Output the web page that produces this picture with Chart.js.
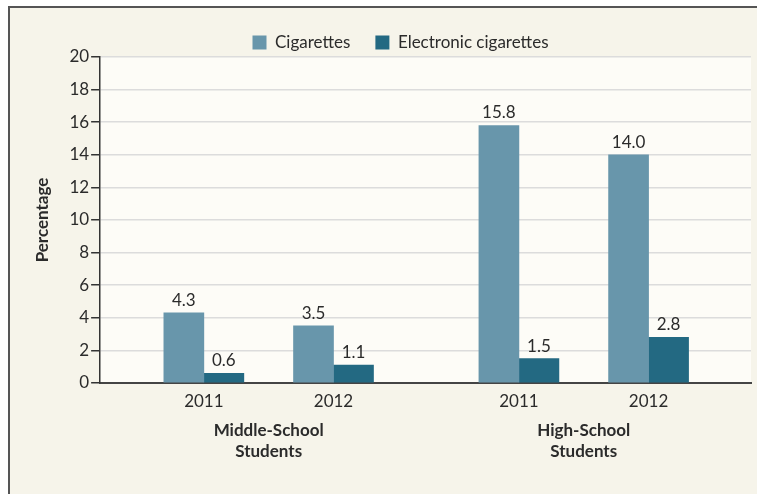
<!DOCTYPE html>
<html>
<head>
<meta charset="utf-8">
<script src="https://cdn.jsdelivr.net/npm/chart.js@4/dist/chart.umd.min.js"></script>
<style>
  html, body { margin: 0; padding: 0; background: #ffffff; overflow: hidden; }
  #frame {
    position: absolute; left: 8px; top: 6px;
    width: 747px; height: 486px;
    border-left: 2px solid #555555; border-top: 2px solid #555555;
    background: #f6f4ea;
  }
  #chart { display: block; }
</style>
</head>
<body>
<div id="frame"><canvas id="chart" width="747" height="486"></canvas></div>
<script>
// values
var yearLabels = ["2011", "2012", "2011", "2012"];
var yearPositions = [1, 2, 3.43, 4.43];
var groupLabels = [["Middle-School", "Students"], ["High-School", "Students"]];
var groupPositions = [1.5, 3.93];
var cigarettes = [4.3, 3.5, 15.8, 14.0];
var eCigarettes = [0.6, 1.1, 1.5, 2.8];

var fontFamily = "Lato, 'DejaVu Sans', sans-serif";
var textColor = "#2b2b2b";

function toPoints(values){
    var pts = [];
    for(var i = 0; i < values.length; i++){
        pts.push({x: yearPositions[i], y: values[i]});
    }
    return pts;
}

// plot area is a lighter shade than the page
var plotBackground = {
    id: "plotBackground",
    beforeDraw: function(chart){
        var a = chart.chartArea;
        var ctx = chart.ctx;
        ctx.save();
        ctx.fillStyle = "#fdfcf7";
        ctx.fillRect(a.left, a.top, a.right - a.left, a.bottom - a.top);
        ctx.restore();
    }
};

// value printed on top of each bar
var barLabels = {
    id: "barLabels",
    afterDatasetsDraw: function(chart){
        var ctx = chart.ctx;
        ctx.save();
        ctx.font = "17px " + fontFamily;
        ctx.fillStyle = textColor;
        ctx.textAlign = "center";
        ctx.textBaseline = "bottom";
        chart.data.datasets.forEach(function(ds, i){
            chart.getDatasetMeta(i).data.forEach(function(bar, j){
                ctx.fillText(ds.data[j].y.toFixed(1), bar.x, bar.y - 4);
            });
        });
        ctx.restore();
    }
};

// bold group names centred under each pair of years
var groupTitles = {
    id: "groupTitles",
    afterDraw: function(chart){
        var ctx = chart.ctx;
        var xScale = chart.scales.x;
        var base = chart.chartArea.bottom;
        ctx.save();
        ctx.font = "bold 17px " + fontFamily;
        ctx.fillStyle = textColor;
        ctx.textAlign = "center";
        ctx.textBaseline = "alphabetic";
        for(var i = 0; i < groupLabels.length; i++){
            var px = xScale.getPixelForValue(groupPositions[i]);
            for(var k = 0; k < groupLabels[i].length; k++){
                ctx.fillText(groupLabels[i][k], px, base + 53 + k * 21);
            }
        }
        ctx.restore();
    }
};

// legend sits a little right of the canvas centre in the original
var legendShift = {
    id: "legendShift",
    afterLayout: function(chart){
        chart.legend.left += 9;
        chart.legend.right += 9;
    }
};

var config = {
    type: "bar",
    data: {
        datasets: [{
            label: "Cigarettes",
            data: toPoints(cigarettes),
            backgroundColor: "#6896ab"
        },{
            label: "Electronic cigarettes",
            data: toPoints(eCigarettes),
            backgroundColor: "#236982"
        }]
    },
    options: {
        responsive: false,
        animation: false,
        barThickness: 40,
        layout: { padding: { top: 1, left: 22, right: 6, bottom: 74.6 } },
        plugins: {
            tooltip: { enabled: false },
            legend: {
                position: "top",
                maxHeight: 48,
                labels: {
                    boxWidth: 14,
                    boxHeight: 14,
                    padding: 25,
                    color: textColor,
                    font: { family: fontFamily, size: 17 }
                }
            }
        },
        scales: {
            x: {
                type: "linear",
                position: "bottom",
                min: 0.2,
                max: 5.22,
                offset: false,
                grid: { display: false, drawTicks: false },
                border: { display: true, color: "#444444", width: 2 },
                afterBuildTicks: function(scale){
                    scale.ticks = yearPositions.map(function(v){ return {value: v}; });
                },
                ticks: {
                    autoSkip: false,
                    maxRotation: 0,
                    padding: 8,
                    color: textColor,
                    font: { family: fontFamily, size: 17 },
                    callback: function(v, i){ return yearLabels[i]; }
                }
            },
            y: {
                min: 0,
                max: 20,
                grid: {
                    color: "#dcdcdc",
                    lineWidth: 1.5,
                    tickColor: "#333333",
                    tickLength: 9,
                    tickWidth: 1.5
                },
                border: { display: true, color: "#333333", width: 1.5 },
                ticks: {
                    stepSize: 2,
                    padding: 2,
                    color: textColor,
                    font: { family: fontFamily, size: 17 }
                },
                title: {
                    display: true,
                    text: "Percentage",
                    color: textColor,
                    padding: { top: 0, bottom: 15 },
                    font: { family: fontFamily, size: 17, weight: "bold" }
                }
            }
        }
    },
    plugins: [plotBackground, barLabels, groupTitles, legendShift]
};

var chart = new Chart(document.getElementById("chart").getContext("2d"), config);
</script>
</body>
</html>
